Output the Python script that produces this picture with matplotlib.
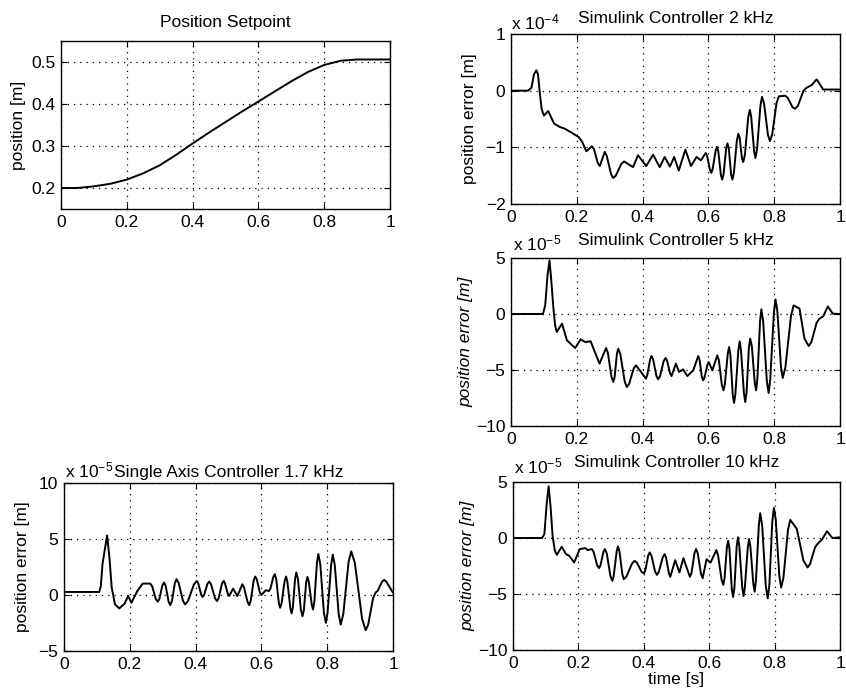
import matplotlib
matplotlib.use("Agg")
import matplotlib.pyplot as plt

plt.rcParams['font.family'] = ['Liberation Sans', 'DejaVu Sans']
plt.rcParams['mathtext.fontset'] = 'custom'
plt.rcParams['mathtext.rm'] = 'Liberation Sans'
plt.rcParams['mathtext.it'] = 'Liberation Sans:italic'
plt.rcParams['mathtext.default'] = 'regular'

# ---------------- data ----------------
# Position setpoint [m]
sp_t = [0.0, 0.05, 0.1, 0.15, 0.2, 0.25, 0.3, 0.35, 0.4, 0.45, 0.5,
        0.55, 0.6, 0.65, 0.7, 0.75, 0.8, 0.85, 0.9, 0.95, 1.0]
sp_v = [0.200, 0.200, 0.204, 0.210, 0.220, 0.235, 0.254, 0.279, 0.306, 0.332, 0.357,
        0.382, 0.406, 0.430, 0.454, 0.476, 0.493, 0.503, 0.506, 0.506, 0.506]

# Simulink controller 2 kHz, error x 1e-4 m
k2_t = [0.0, 0.052, 0.062, 0.070, 0.077, 0.082, 0.087, 0.093, 0.100, 0.113,
        0.131, 0.148, 0.163, 0.184, 0.206, 0.216, 0.229, 0.246, 0.252, 0.264,
        0.270, 0.285, 0.291, 0.304, 0.310, 0.3185, 0.3355, 0.344, 0.371, 0.386,
        0.411, 0.432, 0.452, 0.467, 0.483, 0.496, 0.510, 0.530, 0.547, 0.564,
        0.577, 0.592, 0.596, 0.605, 0.609, 0.613, 0.622, 0.626, 0.630, 0.638,
        0.642, 0.646, 0.654, 0.658, 0.662, 0.669, 0.673, 0.6775, 0.6865, 0.691,
        0.695, 0.702, 0.706, 0.711, 0.721, 0.726, 0.730, 0.739, 0.743, 0.748,
        0.758, 0.763, 0.769, 0.781, 0.787, 0.794, 0.807, 0.814, 0.833, 0.8405,
        0.8555, 0.863, 0.872, 0.889, 0.898, 0.914, 0.929, 0.949, 1.0]
k2_v = [0.0, 0.0, 0.05, 0.29, 0.36, 0.29, -0.01, -0.32, -0.44, -0.36,
        -0.58, -0.64, -0.67, -0.74, -0.82, -0.90, -1.07, -0.98, -1.03, -1.28,
        -1.33, -1.08, -1.15, -1.47, -1.54, -1.50, -1.29, -1.25, -1.35, -1.14,
        -1.33, -1.13, -1.35, -1.17, -1.34, -1.17, -1.41, -1.04, -1.33, -1.17,
        -1.23, -1.10, -1.15, -1.40, -1.45, -1.38, -1.06, -0.99, -1.07, -1.49,
        -1.57, -1.48, -1.02, -0.93, -1.02, -1.48, -1.57, -1.45, -0.88, -0.76,
        -0.83, -1.19, -1.26, -1.13, -0.47, -0.34, -0.46, -1.07, -1.19, -1.03,
        -0.27, -0.11, -0.22, -0.78, -0.89, -0.77, -0.22, -0.10, -0.09, -0.12,
        -0.29, -0.32, -0.27, 0.00, 0.05, 0.10, 0.20, 0.02, 0.02]

# Simulink controller 5 kHz, error x 1e-5 m
k5_t = [0.0, 0.097, 0.104, 0.111, 0.117, 0.122, 0.129, 0.134, 0.139, 0.155,
        0.170, 0.195, 0.212, 0.225, 0.242, 0.269, 0.289, 0.2945, 0.3055, 0.311,
        0.315, 0.322, 0.326, 0.3325, 0.3455, 0.352, 0.359, 0.373, 0.380, 0.410,
        0.414, 0.423, 0.427, 0.432, 0.442, 0.447, 0.453, 0.464, 0.470, 0.4745,
        0.4835, 0.488, 0.501, 0.511, 0.523, 0.536, 0.554, 0.569, 0.573, 0.580,
        0.584, 0.588, 0.597, 0.601, 0.612, 0.627, 0.632, 0.641, 0.646, 0.650,
        0.659, 0.663, 0.667, 0.674, 0.678, 0.682, 0.691, 0.695, 0.699, 0.708,
        0.712, 0.716, 0.723, 0.727, 0.732, 0.741, 0.745, 0.749, 0.757, 0.761,
        0.7665, 0.7775, 0.783, 0.788, 0.799, 0.804, 0.8095, 0.8205, 0.826, 0.834,
        0.851, 0.859, 0.877, 0.892, 0.905, 0.913, 0.929, 0.937, 0.949, 0.963,
        0.978, 1.0]
k5_v = [0.0, 0.0, 0.77, 3.45, 4.79, 3.15, 0.48, -1.0, -1.61, -0.86,
        -2.35, -3.04, -2.26, -2.50, -2.44, -4.43, -3.04, -3.48, -5.63, -6.07,
        -5.64, -3.53, -3.10, -3.60, -6.02, -6.52, -6.24, -4.86, -4.58, -5.77,
        -5.48, -4.04, -3.75, -4.05, -5.53, -5.83, -5.55, -4.21, -3.93, -4.17,
        -5.30, -5.54, -4.43, -5.18, -4.94, -5.54, -5.03, -3.75, -4.07, -5.60,
        -5.92, -5.68, -4.53, -4.29, -5.03, -3.69, -4.15, -6.36, -6.82, -6.26,
        -3.51, -2.95, -3.68, -7.22, -7.95, -7.15, -3.24, -2.44, -3.23, -7.07,
        -7.86, -7.03, -3.03, -2.20, -2.87, -6.15, -6.82, -5.76, -0.64, 0.42,
        -0.67, -5.96, -7.05, -5.83, 0.09, 1.31, 0.29, -4.69, -5.71, -4.76,
        -0.18, 0.77, 0.48, -2.2, -2.86, -2.50, -0.78, -0.42, -0.21, 0.68,
        0.03, 0.0]

# Single axis controller 1.7 kHz, error x 1e-5 m
sa_t = [0.0, 0.107, 0.112, 0.117, 0.131, 0.138, 0.145, 0.155, 0.168, 0.184,
        0.195, 0.205, 0.223, 0.239, 0.262, 0.268, 0.279, 0.285, 0.290, 0.299,
        0.304, 0.309, 0.318, 0.323, 0.328, 0.337, 0.342, 0.3485, 0.3615, 0.368,
        0.377, 0.395, 0.404, 0.408, 0.417, 0.421, 0.426, 0.436, 0.441, 0.447,
        0.459, 0.465, 0.470, 0.480, 0.485, 0.489, 0.498, 0.502, 0.514, 0.527,
        0.542, 0.547, 0.558, 0.563, 0.5675, 0.5765, 0.581, 0.586, 0.595, 0.600,
        0.613, 0.623, 0.6275, 0.6365, 0.641, 0.645, 0.653, 0.657, 0.6615, 0.6705,
        0.675, 0.679, 0.688, 0.692, 0.6955, 0.7025, 0.706, 0.711, 0.720, 0.725,
        0.729, 0.736, 0.740, 0.744, 0.753, 0.757, 0.761, 0.769, 0.773, 0.779,
        0.790, 0.796, 0.801, 0.812, 0.817, 0.823, 0.835, 0.841, 0.849, 0.865,
        0.873, 0.884, 0.906, 0.917, 0.9245, 0.9395, 0.947, 0.9535, 0.9665, 0.973,
        0.980, 1.0]
sa_v = [0.27, 0.27, 0.8, 2.76, 5.32, 3.36, 0.66, -0.84, -1.20, -0.78,
        -0.09, -0.69, 0.36, 1.02, 1.02, 0.78, -0.36, -0.60, -0.35, 0.86,
        1.11, 0.82, -0.61, -0.90, -0.56, 1.07, 1.41, 1.08, -0.51, -0.84,
        -0.53, 0.95, 1.26, 1.05, 0.03, -0.18, 0.02, 1.00, 1.20, 0.95,
        -0.29, -0.54, -0.28, 1.00, 1.26, 1.06, 0.11, -0.09, 0.57, -0.09,
        0.96, 0.69, -0.63, -0.90, -0.53, 1.28, 1.65, 1.41, 0.24, 0.0,
        0.42, 0.36, 0.58, 1.64, 1.86, 1.42, -0.70, -1.14, -0.73, 1.24,
        1.65, 1.17, -1.17, -1.65, -1.12, 1.48, 2.01, 1.44, -1.32, -1.89,
        -1.38, 1.11, 1.62, 1.20, -0.87, -1.29, -0.57, 2.94, 3.66, 2.76,
        -1.59, -2.49, -1.60, 2.71, 3.60, 2.69, -1.73, -2.64, -1.69, 2.95,
        3.90, 2.87, -2.12, -3.15, -2.66, -0.28, 0.21, 0.38, 1.18, 1.35,
        1.18, 0.20]

# Simulink controller 10 kHz, error x 1e-5 m
k10_t = [0.0, 0.089, 0.096, 0.103, 0.109, 0.115, 0.121, 0.128, 0.134, 0.149,
         0.162, 0.172, 0.187, 0.204, 0.221, 0.228, 0.241, 0.2465, 0.2575, 0.263,
         0.2675, 0.2765, 0.281, 0.287, 0.298, 0.304, 0.308, 0.317, 0.321, 0.3255,
         0.3345, 0.339, 0.347, 0.364, 0.372, 0.379, 0.393, 0.400, 0.4045, 0.4135,
         0.418, 0.4235, 0.4345, 0.440, 0.446, 0.458, 0.464, 0.468, 0.477, 0.481,
         0.496, 0.509, 0.521, 0.541, 0.546, 0.555, 0.560, 0.565, 0.575, 0.580,
         0.592, 0.604, 0.622, 0.627, 0.638, 0.643, 0.647, 0.654, 0.658, 0.662,
         0.669, 0.673, 0.677, 0.684, 0.688, 0.692, 0.701, 0.705, 0.709, 0.718,
         0.722, 0.726, 0.735, 0.739, 0.743, 0.752, 0.756, 0.762, 0.773, 0.779,
         0.784, 0.793, 0.798, 0.8035, 0.8145, 0.820, 0.827, 0.841, 0.848, 0.868,
         0.888, 0.901, 0.9085, 0.9235, 0.931, 0.946, 0.960, 0.977, 1.0]
k10_v = [0.0, 0.0, 0.36, 3.05, 4.61, 2.75, 0.21, -1.14, -1.50, -0.78,
         -1.44, -1.59, -2.19, -0.99, -0.90, -1.08, -0.99, -1.24, -2.44, -2.69,
         -2.44, -1.24, -0.99, -1.40, -3.42, -3.83, -3.38, -1.20, -0.75, -1.18,
         -3.25, -3.68, -3.44, -2.28, -2.04, -2.20, -3.01, -3.17, -2.90, -1.56,
         -1.29, -1.58, -3.00, -3.29, -3.02, -1.71, -1.44, -1.74, -3.17, -3.47,
         -1.98, -3.08, -1.80, -3.47, -3.11, -1.35, -0.99, -1.37, -3.21, -3.59,
         -1.89, -2.20, -1.08, -1.53, -3.74, -4.19, -3.61, -0.82, -0.24, -0.97,
         -4.54, -5.27, -4.49, -0.72, 0.06, -0.71, -4.41, -5.18, -4.44, -0.83,
         -0.09, -0.78, -4.10, -4.79, -3.77, 1.20, 2.22, 1.11, -4.28, -5.39,
         -4.21, 1.51, 2.69, 1.65, -3.39, -4.43, -3.55, 0.74, 1.62, 0.81,
         -2.0, -2.63, -2.32, -0.85, -0.54, -0.09, 0.60, 0.0, 0.06]

xticks = [0, 0.2, 0.4, 0.6, 0.8, 1]
xticklabels = ['0', '0.2', '0.4', '0.6', '0.8', '1']

# ---------------- figure ----------------
W, H = 846, 693
fig = plt.figure(figsize=(W / 100, H / 100), dpi=100)

def px_axes(l, t, r, b):
    return fig.add_axes([l / W, 1 - b / H, (r - l) / W, (b - t) / H])

FS = 12.5
LINE = dict(color='black', lw=1.4, solid_joinstyle='round', solid_capstyle='round')

def style(ax, ylim, yticks, yticklabels):
    ax.set_xlim(0, 1)
    ax.set_ylim(*ylim)
    ax.set_xticks(xticks)
    ax.set_xticklabels(xticklabels)
    ax.set_yticks(yticks)
    ax.set_yticklabels(yticklabels)
    ax.tick_params(direction='in', top=True, right=True, length=4, width=0.8,
                   labelsize=FS, pad=4)
    ax.grid(True, color='black', linestyle=(0, (1, 4)), linewidth=0.9)
    for s in ax.spines.values():
        s.set_linewidth(1.0)
        s.set_color('black')

def mult(x, y, exp):
    fig.text(x / W, 1 - y / H, 'x 10$^{%s}$' % exp, fontsize=FS,
             ha='left', va='baseline')

# Position setpoint
ax1 = px_axes(61, 41, 390, 209)
ax1.plot(sp_t, sp_v, **LINE)
style(ax1, (0.15, 0.55), [0.2, 0.3, 0.4, 0.5], ['0.2', '0.3', '0.4', '0.5'])
ax1.set_title('Position Setpoint', fontsize=FS, pad=10)
ax1.set_ylabel('position [m]', fontsize=FS, labelpad=4)

# 2 kHz
ax2 = px_axes(511, 34, 840, 204)
ax2.plot(k2_t, k2_v, **LINE)
style(ax2, (-2, 1), [-2, -1, 0, 1], ['\u22122', '\u22121', '0', '1'])
ax2.set_title('Simulink Controller 2 kHz', fontsize=FS, pad=8)
ax2.set_ylabel('position error [m]', fontsize=FS, labelpad=6)
mult(511, 29, '-4')

# 5 kHz
ax3 = px_axes(511, 258, 840, 426)
ax3.plot(k5_t, k5_v, **LINE)
style(ax3, (-10, 5), [-10, -5, 0, 5], ['\u221210', '\u22125', '0', '5'])
ax3.set_title('Simulink Controller 5 kHz', fontsize=FS, pad=9.5)
ax3.set_ylabel('position error [m]', fontsize=FS, style='italic', labelpad=2)
mult(513, 250, '-5')

# Single axis 1.7 kHz
ax4 = px_axes(64, 483, 393, 651)
ax4.plot(sa_t, sa_v, **LINE)
style(ax4, (-5, 10), [-5, 0, 5, 10], ['\u22125', '0', '5', '10'])
ax4.set_title('Single Axis Controller 1.7 kHz', fontsize=FS, pad=4.3)
ax4.set_ylabel('position error [m]', fontsize=FS, labelpad=6)
mult(65, 477, '-5')

# 10 kHz
ax5 = px_axes(513, 482, 840, 650)
ax5.plot(k10_t, k10_v, **LINE)
style(ax5, (-10, 5), [-10, -5, 0, 5], ['\u221210', '\u22125', '0', '5'])
ax5.set_title('Simulink Controller 10 kHz', fontsize=FS, pad=11)
ax5.set_ylabel('position error [m]', fontsize=FS, style='italic', labelpad=2)
ax5.set_xlabel('time [s]', fontsize=FS, labelpad=1)
mult(514, 473, '-5')

fig.savefig('out.png', dpi=100)
